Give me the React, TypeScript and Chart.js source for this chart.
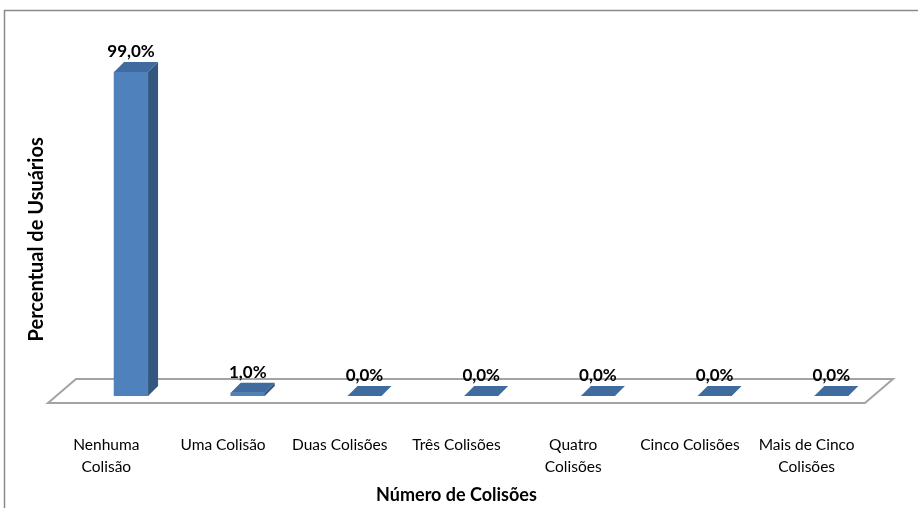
import React, { useEffect, useRef } from 'react';
import { Chart, registerables } from 'chart.js';

Chart.register(...registerables);

// ---- data ----
const categories: string[][] = [
  ['Nenhuma', 'Colisão'],
  ['Uma Colisão'],
  ['Duas Colisões'],
  ['Três Colisões'],
  ['Quatro', 'Colisões'],
  ['Cinco Colisões'],
  ['Mais de Cinco', 'Colisões'],
];
const percentValues: number[] = [99.0, 1.0, 0.0, 0.0, 0.0, 0.0, 0.0];
const yMin = 0;
const yMax = 100;
const xAxisTitle = 'Número de Colisões';
const yAxisTitle = 'Percentual de Usuários';

// ---- style ----
const FONT = 'Lato, "Open Sans", "DejaVu Sans", sans-serif';
const FRONT = '#4F81BD';
const TOP = '#3F6B9F';
const SIDE = '#34577F';
const BAR_DX = 10;
const BAR_DY = 10;
const SHIFT_X = 24.7;
const SHIFT_Y = 7;
const FLOOR_DX = 28;
const FLOOR_DY = 24;

const fmt = (v: number) => v.toFixed(1).replace('.', ',') + '%';

const excel3d = {
  id: 'excel3d',
  beforeDraw(chart: any) {
    const ctx = chart.ctx;
    ctx.save();
    ctx.strokeStyle = '#8a8a8a';
    ctx.lineWidth = 1.5;
    ctx.beginPath();
    ctx.moveTo(4.5, chart.height);
    ctx.lineTo(4.5, 10.5);
    ctx.lineTo(chart.width, 10.5);
    ctx.stroke();

    const { left, right, bottom } = chart.chartArea;
    ctx.beginPath();
    ctx.moveTo(left, bottom);
    ctx.lineTo(right, bottom);
    ctx.lineTo(right + FLOOR_DX, bottom - FLOOR_DY);
    ctx.lineTo(left + FLOOR_DX, bottom - FLOOR_DY);
    ctx.closePath();
    ctx.fillStyle = '#ffffff';
    ctx.fill();
    ctx.strokeStyle = '#a3a3a3';
    ctx.lineWidth = 2;
    ctx.stroke();
    ctx.restore();
  },
  beforeDatasetsDraw(chart: any) {
    chart.ctx.save();
    chart.ctx.translate(SHIFT_X, -SHIFT_Y);
  },
  afterDatasetsDraw(chart: any) {
    const ctx = chart.ctx;
    const meta = chart.getDatasetMeta(0);
    meta.data.forEach((el: any) => {
      const { x, y, base, width } = el.getProps(['x', 'y', 'base', 'width'], true);
      const l = x - width / 2;
      const r = x + width / 2;
      // top face
      ctx.beginPath();
      ctx.moveTo(l, y);
      ctx.lineTo(l + BAR_DX, y - BAR_DY);
      ctx.lineTo(r + BAR_DX, y - BAR_DY);
      ctx.lineTo(r, y);
      ctx.closePath();
      ctx.fillStyle = TOP;
      ctx.fill();
      // side face
      if (base - y > 0.5) {
        ctx.beginPath();
        ctx.moveTo(r, y);
        ctx.lineTo(r + BAR_DX, y - BAR_DY);
        ctx.lineTo(r + BAR_DX, base - BAR_DY);
        ctx.lineTo(r, base);
        ctx.closePath();
        ctx.fillStyle = SIDE;
        ctx.fill();
      }
    });
    ctx.restore();

    // data labels
    ctx.save();
    ctx.font = `bold 17px ${FONT}`;
    ctx.fillStyle = '#000000';
    ctx.textAlign = 'center';
    ctx.textBaseline = 'alphabetic';
    meta.data.forEach((el: any, i: number) => {
      const { x, y } = el.getProps(['x', 'y'], true);
      ctx.fillText(fmt(percentValues[i]), x + SHIFT_X, y - SHIFT_Y - 15);
    });
    ctx.restore();
  },
};

export default function App() {
  const ref = useRef<HTMLCanvasElement | null>(null);

  useEffect(() => {
    if (!ref.current) return;
    const chart = new Chart(ref.current, {
      type: 'bar',
      data: {
        labels: categories,
        datasets: [
          {
            data: percentValues,
            backgroundColor: FRONT,
            borderWidth: 0,
            barThickness: 34,
          },
        ],
      },
      options: {
        responsive: false,
        animation: false,
        events: [],
        layout: { padding: { top: 75.7, right: 53, bottom: 0, left: 0 } },
        plugins: {
          legend: { display: false },
          tooltip: { enabled: false },
          title: { display: false },
        },
        scales: {
          x: {
            grid: { display: false },
            border: { display: false },
            ticks: {
              color: '#000000',
              font: { family: FONT, size: 15.5, lineHeight: 1.45 },
              padding: 22.5,
              maxRotation: 0,
              autoSkip: false,
            },
            title: {
              display: true,
              text: xAxisTitle,
              color: '#000000',
              font: { family: FONT, size: 18, weight: 'bold' },
              padding: { top: 0, bottom: 2 },
            },
            afterFit: (s: any) => {
              s.height = 105;
            },
          },
          y: {
            min: yMin,
            max: yMax,
            grid: { display: false },
            border: { display: false },
            ticks: { display: false },
            title: {
              display: true,
              text: yAxisTitle,
              color: '#000000',
              font: { family: FONT, size: 20, weight: 'bold' },
              padding: { top: 25, bottom: 0 },
            },
            afterFit: (s: any) => {
              s.width = 48;
            },
          },
        },
      } as any,
      plugins: [excel3d],
    });
    return () => chart.destroy();
  }, []);

  return (
    <div style={{ position: 'fixed', left: 0, top: 0, width: 918, height: 508, background: '#fff' }}>
      <canvas ref={ref} width={918} height={508} style={{ display: 'block' }} />
    </div>
  );
}
